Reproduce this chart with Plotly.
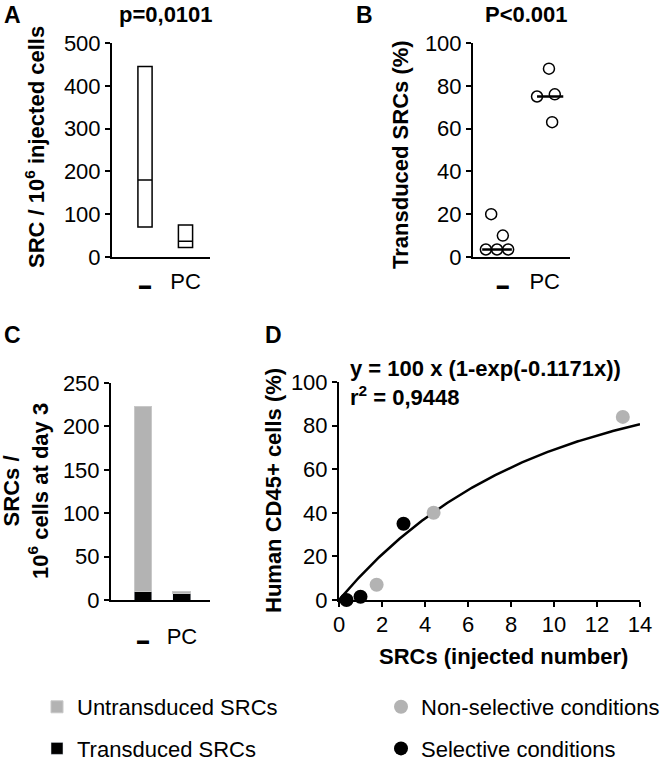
import numpy as np
import plotly.graph_objects as go

W, H = 664, 761
FONT = "Liberation Sans, Arial, sans-serif"
FS = 22

# ---------- data ----------
# Panel A (box: min/median/max)
a_groups = ["-", "PC"]
a_low = [70, 22]
a_median = [180, 37]
a_high = [445, 75]

# Panel B (individual values, with horizontal jitter, and medians)
b_minus_vals = [20, 10, 3.5, 3.5, 3.5]
b_minus_jit = [-0.11, 0.11, -0.21, 0.0, 0.21]
b_pc_vals = [88, 75, 76, 63]
b_pc_jit = [0.98, 0.755, 1.09, 1.04]
b_medians = [3.5, 75]

# Panel C (stacked bars)
c_groups = ["-", "PC"]
c_transduced = [10, 7.5]
c_untransduced = [213, 2.5]

# Panel D (scatter + fit)
d_nonsel_x = [1.75, 4.4, 13.2]
d_nonsel_y = [7, 40, 84]
d_sel_x = [0.35, 1.0, 3.0]
d_sel_y = [0, 1.5, 35]
fit_k = 0.1171
fit_x = np.linspace(0, 14, 200)
fit_y = 100 * (1 - np.exp(-fit_k * fit_x))

GRAY = "#b3b3b3"

def px_x(p):
    return p / W

def px_y(p):
    return 1 - p / H

fig = go.Figure()

# Panel A
fig.add_trace(go.Box(
    x=[0, 1], q1=a_low, median=a_median, q3=a_high,
    lowerfence=a_low, upperfence=a_high,
    fillcolor="white", line=dict(color="black", width=1.5),
    width=0.35, whiskerwidth=0, boxpoints=False, showlegend=False,
    xaxis="x", yaxis="y", hoverinfo="skip"))

# Panel B
pt_marker = dict(size=11, color="white", line=dict(color="black", width=1.5))
fig.add_trace(go.Scatter(
    x=b_minus_jit, y=b_minus_vals, mode="markers", marker=pt_marker,
    showlegend=False, xaxis="x2", yaxis="y2", cliponaxis=False))
fig.add_trace(go.Scatter(
    x=b_pc_jit, y=b_pc_vals, mode="markers", marker=pt_marker,
    showlegend=False, xaxis="x2", yaxis="y2", cliponaxis=False))
med_spans = [(-0.28, 0.28), (0.755, 1.25)]
for (x0, x1), m in zip(med_spans, b_medians):
    fig.add_trace(go.Scatter(
        x=[x0, x1], y=[m, m], mode="lines", line=dict(color="black", width=2.5),
        showlegend=False, xaxis="x2", yaxis="y2", cliponaxis=False))

# Panel C
fig.add_trace(go.Bar(
    x=[0, 1], y=c_transduced, width=0.46, marker=dict(color="black"),
    name="Transduced SRCs", legend="legend", legendrank=2, legendgroup="t",
    xaxis="x3", yaxis="y3"))
fig.add_trace(go.Bar(
    x=[0, 1], y=c_untransduced, width=0.46,
    marker=dict(color=GRAY, line=dict(color="#c8c8c8", width=1)),
    name="Untransduced SRCs", legend="legend", legendrank=1, legendgroup="u",
    xaxis="x3", yaxis="y3"))

# Panel D
fig.add_trace(go.Scatter(
    x=fit_x, y=fit_y, mode="lines", line=dict(color="black", width=2.5),
    showlegend=False, xaxis="x4", yaxis="y4"))
fig.add_trace(go.Scatter(
    x=d_nonsel_x, y=d_nonsel_y, mode="markers",
    marker=dict(size=14, color=GRAY), name="Non-selective conditions",
    legend="legend2", legendrank=1, legendgroup="n",
    xaxis="x4", yaxis="y4", cliponaxis=False))
fig.add_trace(go.Scatter(
    x=d_sel_x, y=d_sel_y, mode="markers",
    marker=dict(size=14, color="black"), name="Selective conditions",
    legend="legend2", legendrank=2, legendgroup="s",
    xaxis="x4", yaxis="y4", cliponaxis=False))

tickfont = dict(family=FONT, size=FS, color="black")
common_y = dict(showline=True, linecolor="black", linewidth=2, ticks="outside",
                ticklen=5, tickwidth=2, tickcolor="black", showgrid=False,
                zeroline=False, tickfont=tickfont, fixedrange=True, automargin=False)
common_x = dict(showline=True, linecolor="black", linewidth=2, ticks="",
                showgrid=False, zeroline=False, tickfont=tickfont, fixedrange=True,
                automargin=False)

dash = '<span style="font-size:12px">▬</span>'

legfont = dict(family=FONT, size=FS, color="black")
fig.update_layout(
    width=W, height=H,
    margin=dict(l=0, r=0, t=0, b=0, pad=0, autoexpand=False),
    paper_bgcolor="white", plot_bgcolor="white",
    barmode="stack", font=dict(family=FONT, size=FS, color="black"),
    xaxis=dict(domain=[px_x(112), px_x(210)], range=[-0.815, 1.605],
               anchor="y", tickvals=[0, 1], ticktext=[dash, "PC"],
               ticklabelstandoff=4, **common_x),
    yaxis=dict(domain=[px_y(257), px_y(43)], range=[0, 500], anchor="x",
               tickvals=[0, 100, 200, 300, 400, 500], **common_y),
    xaxis2=dict(domain=[px_x(473), px_x(570)], range=[-0.453, 1.377],
                anchor="y2", tickvals=[0.11, 0.9], ticktext=[dash, "PC"],
                ticklabelstandoff=4, **common_x),
    yaxis2=dict(domain=[px_y(257), px_y(43)], range=[0, 100], anchor="x2",
                tickvals=[0, 20, 40, 60, 80, 100], **common_y),
    xaxis3=dict(domain=[px_x(111), px_x(210)], range=[-0.82, 1.72],
                anchor="y3", tickvals=[0, 1], ticktext=[dash, "PC"],
                ticklabelstandoff=16, **common_x),
    yaxis3=dict(domain=[px_y(600), px_y(383)], range=[0, 250], anchor="x3",
                tickvals=[0, 50, 100, 150, 200, 250], **common_y),
    xaxis4=dict(domain=[px_x(339), px_x(640)], range=[0, 14], anchor="y4",
                tickvals=list(range(0, 15, 2)), ticks="outside", ticklen=5,
                tickwidth=2, tickcolor="black", showline=True, linecolor="black",
                linewidth=2, showgrid=False, zeroline=False, tickfont=tickfont,
                fixedrange=True, automargin=False, ticklabelstandoff=-1),
    yaxis4=dict(domain=[px_y(600), px_y(382)], range=[0, 100], anchor="x4",
                tickvals=[0, 20, 40, 60, 80, 100], **common_y),
    legend=dict(x=px_x(37), y=px_y(686), xanchor="left", yanchor="top",
                font=legfont, bgcolor="rgba(0,0,0,0)", tracegroupgap=10,
                itemwidth=30, traceorder="grouped"),
    legend2=dict(x=px_x(381), y=px_y(686), xanchor="left", yanchor="top",
                 font=legfont, bgcolor="rgba(0,0,0,0)", tracegroupgap=10,
                 itemwidth=30, traceorder="grouped"),
)

def ann(text, x, y, size=FS, bold=False, angle=0, xanchor="center", yanchor="middle", align="center"):
    fig.add_annotation(text=f"<b>{text}</b>" if bold else text,
                       x=px_x(x), y=px_y(y), xref="paper", yref="paper",
                       showarrow=False, textangle=angle, xanchor=xanchor,
                       yanchor=yanchor, align=align,
                       font=dict(family=FONT, size=size, color="black"))

# panel letters
ann("A", 12, 15, size=23, bold=True)
ann("B", 364, 15, size=23, bold=True)
ann("C", 12, 335, size=23, bold=True)
ann("D", 273, 335, size=23, bold=True)
# titles
ann("p=0,0101", 166, 15, bold=True)
ann("P<0.001", 526, 15, bold=True)
# axis titles
ann("SRC / 10<sup>6</sup> injected cells", 35, 147, bold=True, angle=-90)
ann("Transduced SRCs (%)", 401, 155, bold=True, angle=-90)
ann("SRCs /<br>10<sup>6</sup> cells at day 3", 26, 491, bold=True, angle=-90)
ann("Human CD45+ cells (%)", 274, 491, bold=True, angle=-90)
ann("SRCs (injected number)", 503, 656, bold=True)
# fit equation
ann("y = 100 x (1-exp(-0.1171x))", 348, 369, bold=True, xanchor="left")
ann("r<sup>2</sup> = 0,9448", 348, 396, bold=True, xanchor="left")

fig.write_html(
    "out.html",
    config={"displayModeBar": False},
    post_script="document.body.style.margin='0';document.body.style.padding='0';"
                "document.documentElement.style.overflow='hidden';",
)
